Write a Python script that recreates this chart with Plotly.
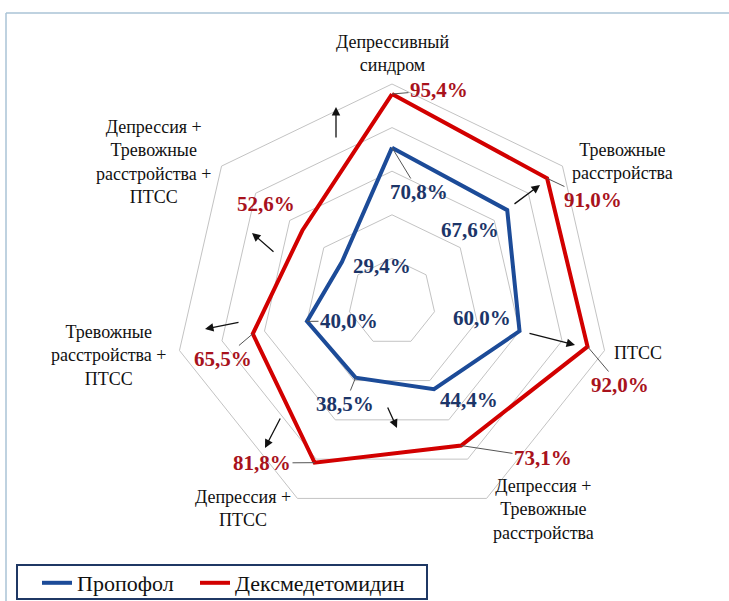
import plotly.graph_objects as go
import math

W, H = 729, 601

categories = [
    "Депрессивный<br>синдром",
    "Тревожные<br>расстройства",
    "ПТСС",
    "Депрессия +<br>Тревожные<br>расстройства",
    "Депрессия +<br>ПТСС",
    "Тревожные<br>расстройства +<br>ПТСС",
    "Депрессия +<br>Тревожные<br>расстройства +<br>ПТСС",
]
propofol = [70.8, 67.6, 60.0, 44.4, 38.5, 40.0, 29.4]
dexmed = [95.4, 91.0, 92.0, 73.1, 81.8, 65.5, 52.6]
series_names = ["Пропофол", "Дексмедетомидин"]

BLUE_LINE = "#1c4b98"
RED_LINE = "#d20000"
BLUE_TXT = "#1c3568"
RED_TXT = "#a8121c"
GRID = "#c3c3c3"
FONT = "Liberation Serif"

# polar geometry (pixels)
CX, CY, R = 392, 302, 218
N = len(categories)


def px_of(k, v):
    th = math.radians(90 - k * 360 / N)
    return CX + v / 100 * R * math.cos(th), CY - v / 100 * R * math.sin(th)


def paper(x, y):
    return x / W, 1 - y / H


fig = go.Figure()
cats_idx = list(range(N))
legend_ids = ["legend", "legend2"]
for name, vals, col, lg in [(series_names[0], propofol, BLUE_LINE, legend_ids[0]),
                            (series_names[1], dexmed, RED_LINE, legend_ids[1])]:
    fig.add_trace(go.Scatterpolar(
        r=vals + vals[:1], theta=[str(i) for i in cats_idx] + ["0"],
        mode="lines", name=name, line=dict(color=col, width=4),
        hoverinfo="skip", legend=lg,
    ))

annotations = []

# axis labels (pixel positions of text centres)
axis_label_pos = [(392, 53), (622, 161), (638, 353), (543, 509), (243, 508), (108, 355), (153, 162)]
for txt, (x, y) in zip(categories, axis_label_pos):
    px, py = paper(x, y)
    annotations.append(dict(x=px, y=py, xref="paper", yref="paper", text=txt, showarrow=False,
                            xanchor="center", yanchor="middle",
                            font=dict(family=FONT, size=18, color="#111111"), align="center"))

# value labels: (label centre pixel, leader?)
dex_label_pos = [((439, 90), True), ((593, 200), True), ((620, 385), True), ((543, 458), True),
                 ((262, 463), True), ((223, 359), True), ((266, 204), False)]
pro_label_pos = [((419, 192), True), ((470, 230), False), ((482, 318), False), ((469, 400), False),
                 ((345, 404), True), ((349, 321), True), ((382, 266), False)]


def fmt(v):
    return "<b>" + f"{v:.1f}".replace(".", ",") + "%</b>"


for vals, poss, col in [(dexmed, dex_label_pos, RED_TXT), (propofol, pro_label_pos, BLUE_TXT)]:
    for k, (v, ((lx, ly), leader)) in enumerate(zip(vals, poss)):
        tx, ty = px_of(k, v)
        if leader:
            px, py = paper(tx, ty)
            annotations.append(dict(x=px, y=py, xref="paper", yref="paper", text=fmt(v),
                                    showarrow=True, arrowhead=0, arrowwidth=1, arrowcolor="#555555",
                                    ax=lx - tx, ay=ly - ty, axref="pixel", ayref="pixel",
                                    font=dict(family=FONT, size=21, color=col)))
        else:
            px, py = paper(lx, ly)
            annotations.append(dict(x=px, y=py, xref="paper", yref="paper", text=fmt(v),
                                    xanchor="center", yanchor="middle",
                                    showarrow=False, font=dict(family=FONT, size=21, color=col)))

# black direction arrows (start pixel -> end pixel)
arrows = [((336, 139), (336, 107)), ((513, 205), (540, 185)), ((528, 333), (575, 345)),
          ((387, 406), (397, 428)), ((281, 417), (265, 448)), ((240, 322), (205, 329)),
          ((275, 253), (252, 233))]
for (sx, sy), (ex, ey) in arrows:
    px, py = paper(ex, ey)
    annotations.append(dict(x=px, y=py, xref="paper", yref="paper", text="", showarrow=True,
                            arrowhead=2, arrowsize=1.3, arrowwidth=1.3, arrowcolor="#111111",
                            ax=sx - ex, ay=sy - ey, axref="pixel", ayref="pixel"))

shapes = [
    dict(type="line", xref="paper", yref="paper", x0=6 / W, x1=1.01, y0=1 - 13 / H, y1=1 - 13 / H,
         line=dict(color="#aac3d6", width=1.5)),
    dict(type="line", xref="paper", yref="paper", x0=6 / W, x1=6 / W, y0=1 - 13 / H, y1=-0.01,
         line=dict(color="#aac3d6", width=1.5)),
    # legend frame
    dict(type="rect", xref="paper", yref="paper", x0=17 / W, x1=427 / W, y0=1 - 599 / H, y1=1 - 565 / H,
         line=dict(color="#1f3864", width=2), fillcolor="rgba(0,0,0,0)"),
]

legend_common = dict(orientation="h", xanchor="left", yanchor="middle", y=1 - 583 / H,
                     borderwidth=0, bgcolor="rgba(0,0,0,0)",
                     font=dict(family=FONT, size=22, color="#111111"))

fig.update_layout(
    width=W, height=H,
    margin=dict(l=0, r=0, t=0, b=0, autoexpand=False),
    paper_bgcolor="white", plot_bgcolor="white",
    polar=dict(
        domain=dict(x=[(CX - R) / W, (CX + R) / W], y=[1 - (CY + R) / H, 1 - (CY - R) / H]),
        gridshape="linear",
        bgcolor="white",
        radialaxis=dict(range=[0, 100], tickvals=[20, 40, 60, 80, 100], showticklabels=False,
                        showline=False, ticks="", gridcolor=GRID, gridwidth=1),
        angularaxis=dict(type="category", categoryarray=[str(i) for i in cats_idx],
                         rotation=90, direction="clockwise", showticklabels=False, ticks="",
                         showgrid=False, showline=True, linecolor=GRID, linewidth=1),
    ),
    showlegend=True,
    legend=dict(x=37 / W, **legend_common),
    legend2=dict(x=195 / W, **legend_common),
    annotations=annotations,
    shapes=shapes,
)

fig.write_html("out.html", config={"displayModeBar": False},
               post_script="document.body.style.margin='0';document.body.style.overflow='hidden';")
